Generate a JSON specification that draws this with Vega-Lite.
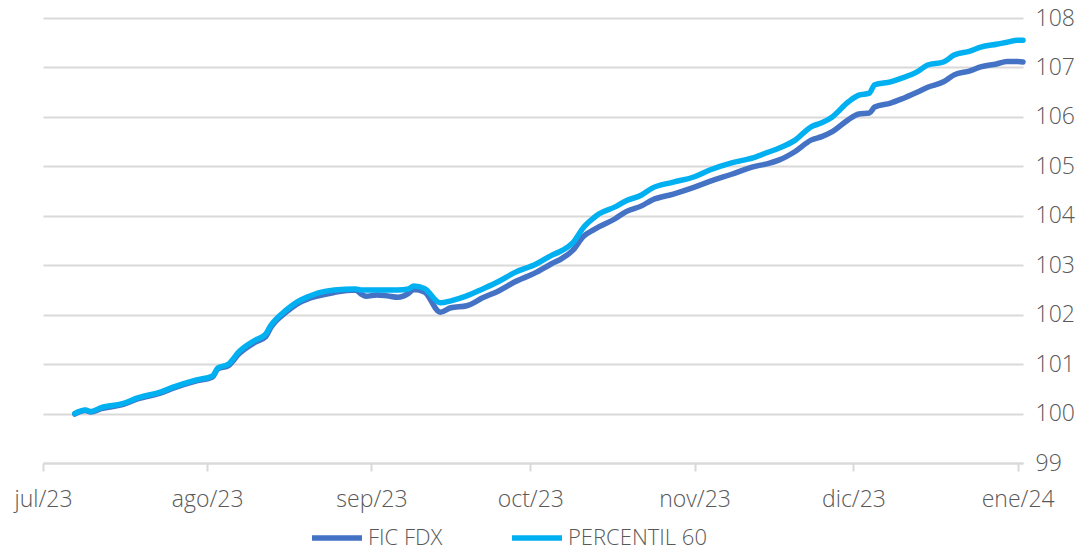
{
  "$schema": "https://vega.github.io/schema/vega-lite/v6.json",
  "autosize": "none",
  "width": 980,
  "height": 445,
  "padding": {"left": 43, "top": 18, "right": 64, "bottom": 86},
  "background": "white",
  "config": {
    "view": {"stroke": null},
    "font": "Open Sans"
  },
  "datasets": {
    "raw": [
      {"fecha": "2023-07-07", "p60": 100.00, "fic": 99.99},
      {"fecha": "2023-07-09", "p60": 100.07, "fic": 100.06},
      {"fecha": "2023-07-10", "p60": 100.04, "fic": 100.03},
      {"fecha": "2023-07-12", "p60": 100.12, "fic": 100.10},
      {"fecha": "2023-07-16", "p60": 100.20, "fic": 100.18},
      {"fecha": "2023-07-19", "p60": 100.32, "fic": 100.30},
      {"fecha": "2023-07-23", "p60": 100.43, "fic": 100.41},
      {"fecha": "2023-07-26", "p60": 100.55, "fic": 100.53},
      {"fecha": "2023-07-30", "p60": 100.68, "fic": 100.66},
      {"fecha": "2023-08-02", "p60": 100.76, "fic": 100.74},
      {"fecha": "2023-08-03", "p60": 100.92, "fic": 100.90},
      {"fecha": "2023-08-05", "p60": 101.00, "fic": 100.97},
      {"fecha": "2023-08-07", "p60": 101.25, "fic": 101.21},
      {"fecha": "2023-08-10", "p60": 101.48, "fic": 101.44},
      {"fecha": "2023-08-12", "p60": 101.60, "fic": 101.55},
      {"fecha": "2023-08-13", "p60": 101.78, "fic": 101.74},
      {"fecha": "2023-08-16", "p60": 102.10, "fic": 102.06},
      {"fecha": "2023-08-18", "p60": 102.26, "fic": 102.22},
      {"fecha": "2023-08-20", "p60": 102.36, "fic": 102.32},
      {"fecha": "2023-08-22", "p60": 102.44, "fic": 102.38},
      {"fecha": "2023-08-25", "p60": 102.50, "fic": 102.45},
      {"fecha": "2023-08-29", "p60": 102.52, "fic": 102.50},
      {"fecha": "2023-08-30", "p60": 102.50, "fic": 102.42},
      {"fecha": "2023-08-31", "p60": 102.50, "fic": 102.37},
      {"fecha": "2023-09-02", "p60": 102.50, "fic": 102.40},
      {"fecha": "2023-09-04", "p60": 102.50, "fic": 102.38},
      {"fecha": "2023-09-06", "p60": 102.50, "fic": 102.35},
      {"fecha": "2023-09-08", "p60": 102.52, "fic": 102.43},
      {"fecha": "2023-09-09", "p60": 102.58, "fic": 102.51},
      {"fecha": "2023-09-11", "p60": 102.53, "fic": 102.46},
      {"fecha": "2023-09-14", "p60": 102.24, "fic": 102.05},
      {"fecha": "2023-09-16", "p60": 102.28, "fic": 102.14},
      {"fecha": "2023-09-19", "p60": 102.38, "fic": 102.18},
      {"fecha": "2023-09-22", "p60": 102.52, "fic": 102.34},
      {"fecha": "2023-09-25", "p60": 102.67, "fic": 102.48},
      {"fecha": "2023-09-28", "p60": 102.85, "fic": 102.66},
      {"fecha": "2023-10-02", "p60": 103.02, "fic": 102.85},
      {"fecha": "2023-10-05", "p60": 103.20, "fic": 103.03},
      {"fecha": "2023-10-07", "p60": 103.30, "fic": 103.14},
      {"fecha": "2023-10-09", "p60": 103.45, "fic": 103.30},
      {"fecha": "2023-10-11", "p60": 103.76, "fic": 103.58},
      {"fecha": "2023-10-13", "p60": 103.96, "fic": 103.72},
      {"fecha": "2023-10-14", "p60": 104.04, "fic": 103.78},
      {"fecha": "2023-10-17", "p60": 104.18, "fic": 103.94},
      {"fecha": "2023-10-19", "p60": 104.30, "fic": 104.08},
      {"fecha": "2023-10-22", "p60": 104.42, "fic": 104.20},
      {"fecha": "2023-10-24", "p60": 104.56, "fic": 104.32},
      {"fecha": "2023-10-28", "p60": 104.68, "fic": 104.44},
      {"fecha": "2023-11-01", "p60": 104.79, "fic": 104.58},
      {"fecha": "2023-11-04", "p60": 104.93, "fic": 104.70},
      {"fecha": "2023-11-08", "p60": 105.07, "fic": 104.84},
      {"fecha": "2023-11-12", "p60": 105.17, "fic": 104.99},
      {"fecha": "2023-11-15", "p60": 105.29, "fic": 105.06},
      {"fecha": "2023-11-17", "p60": 105.37, "fic": 105.13},
      {"fecha": "2023-11-20", "p60": 105.53, "fic": 105.30},
      {"fecha": "2023-11-23", "p60": 105.80, "fic": 105.53},
      {"fecha": "2023-11-25", "p60": 105.88, "fic": 105.60},
      {"fecha": "2023-11-27", "p60": 106.00, "fic": 105.70},
      {"fecha": "2023-11-30", "p60": 106.30, "fic": 105.94},
      {"fecha": "2023-12-02", "p60": 106.44, "fic": 106.06},
      {"fecha": "2023-12-04", "p60": 106.48, "fic": 106.08},
      {"fecha": "2023-12-05", "p60": 106.65, "fic": 106.20},
      {"fecha": "2023-12-08", "p60": 106.71, "fic": 106.28},
      {"fecha": "2023-12-10", "p60": 106.78, "fic": 106.36},
      {"fecha": "2023-12-13", "p60": 106.91, "fic": 106.50},
      {"fecha": "2023-12-15", "p60": 107.05, "fic": 106.60},
      {"fecha": "2023-12-18", "p60": 107.11, "fic": 106.71},
      {"fecha": "2023-12-20", "p60": 107.25, "fic": 106.85},
      {"fecha": "2023-12-23", "p60": 107.33, "fic": 106.93},
      {"fecha": "2023-12-25", "p60": 107.41, "fic": 107.01},
      {"fecha": "2023-12-28", "p60": 107.47, "fic": 107.07},
      {"fecha": "2023-12-30", "p60": 107.51, "fic": 107.12},
      {"fecha": "2024-01-01", "p60": 107.55, "fic": 107.12},
      {"fecha": "2024-01-02", "p60": 107.55, "fic": 107.11}
    ]
  },
  "data": {"name": "raw"},
  "transform": [
    {"fold": ["fic", "p60"], "as": ["clave", "valor"]},
    {"calculate": "datum.clave === 'fic' ? 'FIC FDX' : 'PERCENTIL 60'", "as": "serie"}
  ],
  "mark": {"type": "line", "strokeWidth": 5.5, "strokeCap": "round", "strokeJoin": "round", "interpolate": "monotone"},
  "encoding": {
    "x": {
      "field": "fecha",
      "type": "temporal",
      "scale": {"type": "utc", "domain": [{"year": 2023, "month": 7, "date": 1, "utc": true}, {"year": 2024, "month": 1, "date": 2, "utc": true}]},
      "axis": {
        "title": null,
        "values": [
          {"year": 2023, "month": 7, "date": 1, "utc": true},
          {"year": 2023, "month": 8, "date": 1, "utc": true},
          {"year": 2023, "month": 9, "date": 1, "utc": true},
          {"year": 2023, "month": 10, "date": 1, "utc": true},
          {"year": 2023, "month": 11, "date": 1, "utc": true},
          {"year": 2023, "month": 12, "date": 1, "utc": true},
          {"year": 2024, "month": 1, "date": 1, "utc": true}
        ],
        "labelExpr": "['ene','feb','mar','abr','may','jun','jul','ago','sep','oct','nov','dic'][utcmonth(datum.value)] + '/' + utcFormat(datum.value, '%y')",
        "grid": false,
        "domainColor": "#D9D9D9",
        "domainWidth": 2,
        "tickColor": "#D9D9D9",
        "tickWidth": 2,
        "tickSize": 8,
        "labelPadding": 17,
        "labelFontSize": 23,
        "labelFontWeight": 300,
        "labelColor": "#595959",
        "labelFlush": false,
        "labelOverlap": false
      }
    },
    "y": {
      "field": "valor",
      "type": "quantitative",
      "scale": {"domain": [99, 108], "nice": false, "zero": false},
      "axis": {
        "title": null,
        "orient": "right",
        "values": [99, 100, 101, 102, 103, 104, 105, 106, 107, 108],
        "domain": false,
        "ticks": false,
        "gridColor": "#D9D9D9",
        "gridWidth": 2,
        "labelPadding": 12,
        "labelFontSize": 23,
        "labelFontWeight": 300,
        "labelColor": "#595959"
      }
    },
    "color": {
      "field": "serie",
      "type": "nominal",
      "scale": {"domain": ["FIC FDX", "PERCENTIL 60"], "range": ["#4472C4", "#00B0F0"]},
      "legend": {
        "title": null,
        "orient": "none",
        "direction": "horizontal",
        "legendX": 266,
        "legendY": 492,
        "symbolType": "stroke",
        "symbolSize": 2500,
        "symbolStrokeWidth": 5.5,
        "labelFontSize": 22,
        "labelFontWeight": 300,
        "labelColor": "#595959",
        "labelOffset": 3,
        "columnPadding": 58
      }
    }
  }
}
